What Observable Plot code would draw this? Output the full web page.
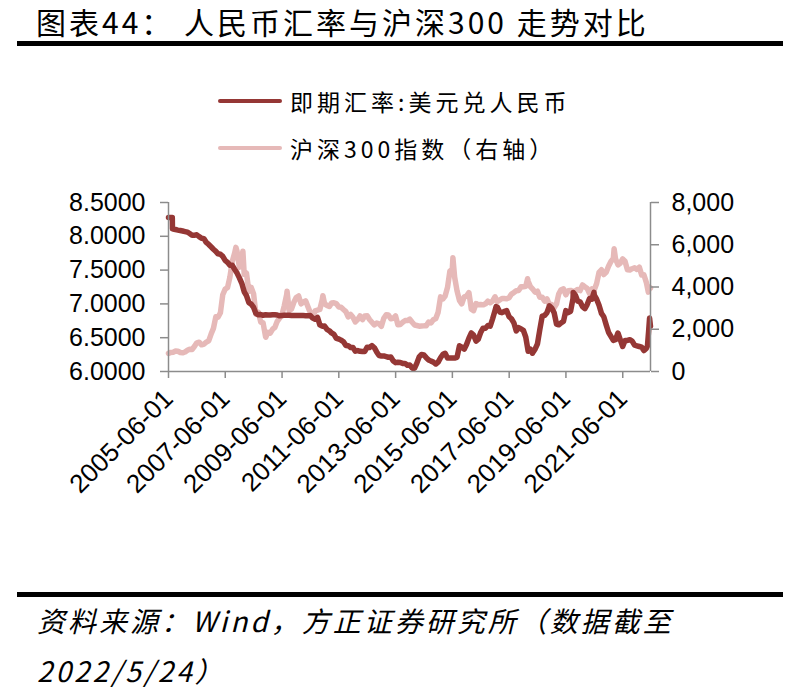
<!DOCTYPE html>
<html><head><meta charset="utf-8">
<script src="https://cdn.jsdelivr.net/npm/d3@7"></script>
<script src="https://cdn.jsdelivr.net/npm/@observablehq/plot@0.6"></script>
<style>
body{margin:0;background:#fff;}
#wrap{position:relative;width:795px;height:692px;overflow:hidden;font-family:"Noto Sans CJK SC",sans-serif;color:#000;}
#title{position:absolute;left:36px;top:1px;font-size:30px;line-height:40px;letter-spacing:3px;white-space:nowrap;}
.rule{position:absolute;left:17px;width:766px;height:5px;background:#000;}
.sw{position:absolute;left:218px;width:64px;height:4px;border-radius:2px;}
.lt{position:absolute;left:290px;font-size:23px;line-height:30px;letter-spacing:4px;white-space:nowrap;}
#chart{position:absolute;left:0;top:180px;}
#foot{position:absolute;left:37px;top:595px;font-size:28px;line-height:50px;font-style:italic;letter-spacing:3px;white-space:nowrap;}
</style></head>
<body><div id="wrap">
<div id="title">图表44： 人民币汇率与沪深300 走势对比</div>
<div class="rule" style="top:41px"></div>
<div class="sw" id="sw1" style="top:99px"></div><div class="lt" id="lt1" style="top:86px"></div>
<div class="sw" id="sw2" style="top:146px"></div><div class="lt" id="lt2" style="top:133px"></div>
<div id="chart"></div>
<div class="rule" style="top:592px"></div>
<div id="foot">资料来源：Wind，方正证券研究所（数据截至<br>2022/5/24）</div>
</div>
<script>
// ---- data ----
const seriesNames = ["即期汇率:美元兑人民币", "沪深300指数（右轴）"];
const seriesColors = ["#953735", "#E6B9B8"];
const monthStart = "2005-06"; // monthly month-end values, Jun 2005 .. Apr 2022
const fxMonthly = [
  8.2765, 8.1080, 8.1000, 8.0920, 8.0850, 8.0790, 8.0702,
  8.0608, 8.0415, 8.0170, 8.0167, 8.0215, 7.9956, 7.9716, 7.9655, 7.9087, 7.8792, 7.8450, 7.8087,
  7.7776, 7.7409, 7.7342, 7.7035, 7.6437, 7.6155, 7.5720, 7.5705, 7.5108, 7.4555, 7.3850, 7.3046,
  7.1786, 7.1230, 7.0190, 6.9975, 6.9480, 6.8591, 6.8388, 6.8434, 6.8313, 6.8398, 6.8347, 6.8346,
  6.8391, 6.8388, 6.8359, 6.8245, 6.8298, 6.8319, 6.8319, 6.8315, 6.8290, 6.8270, 6.8270, 6.8282,
  6.8268, 6.8270, 6.8263, 6.8254, 6.8275, 6.7909, 6.7735, 6.8010, 6.6905, 6.6700, 6.6720, 6.6227,
  6.6020, 6.5700, 6.5483, 6.4900, 6.4810, 6.4640, 6.4400, 6.3862, 6.3825, 6.3560, 6.3563, 6.3009,
  6.3100, 6.2986, 6.2943, 6.2960, 6.3600, 6.3550, 6.3830, 6.3520, 6.2900, 6.2360, 6.2300, 6.2300,
  6.2200, 6.2110, 6.2130, 6.1590, 6.1310, 6.1370, 6.1340, 6.1200, 6.1200, 6.0930, 6.0960, 6.0540,
  6.0500, 6.1200, 6.2160, 6.2510, 6.2450, 6.2050, 6.1710, 6.1530, 6.1390, 6.1110, 6.1390, 6.2040,
  6.2550, 6.2700, 6.1980, 6.2000, 6.2000, 6.2000, 6.2100, 6.3800, 6.3600, 6.3300, 6.4000, 6.4940,
  6.5700, 6.5400, 6.4500, 6.4800, 6.5800, 6.6400, 6.6400, 6.6800, 6.6700, 6.7800, 6.9000, 6.9500,
  6.8800, 6.8700, 6.8900, 6.9000, 6.8100, 6.7800, 6.7200, 6.6000, 6.6500, 6.6300, 6.6100, 6.5100,
  6.3000, 6.3300, 6.2800, 6.3300, 6.4100, 6.6200, 6.8200, 6.8300, 6.8700, 6.9700, 6.9400, 6.8700,
  6.7000, 6.6900, 6.7200, 6.7400, 6.9000, 6.8700, 6.8900, 7.0800, 7.1300, 7.0400, 7.0300, 6.9600,
  6.9300, 6.9900, 7.0800, 7.0700, 7.1300, 7.0700, 6.9800, 6.8600, 6.8100, 6.6900, 6.5800, 6.5200,
  6.4600, 6.4700, 6.5700, 6.4700, 6.3700, 6.4600, 6.4600, 6.4700, 6.4500, 6.3900, 6.3800, 6.3700,
  6.3600, 6.3100, 6.3400, 6.6000
];
const fxExtraDates = ["2005-06-01","2005-07-20","2005-07-22","2014-01-14","2016-12-15","2018-03-27","2019-09-03","2020-05-27","2022-04-15","2022-05-12","2022-05-24"];
const fxExtraValues = [8.2765, 8.2765, 8.1100, 6.0400, 6.9600, 6.2700, 7.1700, 7.1700, 6.3800, 6.7900, 6.6700];
const csiMonthly = [
  904, 914, 969, 959, 900, 886, 923,
  1007, 1056, 1044, 1185, 1357, 1385, 1262, 1300, 1388, 1452, 1759, 2041,
  2595, 2570, 2781, 3634, 3900, 3965, 4471, 5218, 5606, 5689, 4930, 5338,
  4604, 4655, 3792, 3979, 3670, 2710, 2796, 2340, 2302, 1662, 1859, 1817,
  2010, 2082, 2374, 2530, 2695, 3120, 3654, 2880, 2959, 3280, 3500, 3575,
  3204, 3281, 3346, 3067, 2780, 2564, 2868, 2903, 2936, 3398, 3202, 3128,
  3077, 3239, 3253, 3216, 3056, 3044, 2937, 2836, 2585, 2703, 2567, 2346,
  2464, 2634, 2455, 2626, 2634, 2462, 2333, 2205, 2294, 2254, 2140, 2523,
  2688, 2673, 2495, 2517, 2633, 2212, 2225, 2328, 2410, 2410, 2475, 2331,
  2202, 2178, 2146, 2158, 2160, 2165, 2341, 2300, 2450, 2508, 2808, 3533,
  3434, 3572, 3985, 4749, 4841, 4473, 3816, 3366, 3203, 3534, 3566, 3731,
  2946, 2877, 3218, 3156, 3169, 3154, 3203, 3327, 3253, 3336, 3538, 3310,
  3387, 3453, 3456, 3439, 3492, 3666, 3737, 3822, 3837, 4006, 4006, 4030,
  4275, 4023, 3899, 3756, 3802, 3510, 3517, 3335, 3438, 3153, 3173, 3011,
  3201, 3669, 3872, 3913, 3630, 3825, 3836, 3799, 3814, 3886, 3828, 4097,
  4003, 3940, 3686, 3912, 3867, 4164, 4695, 4816, 4588, 4695, 4980, 5211,
  5352, 5336, 5048, 5123, 5332, 5224, 4812, 4806, 4866, 4908, 4833, 4940,
  4564, 4581, 4222, 4016
];
const csiExtraDates = ["2005-06-01","2007-10-16","2008-01-14","2008-11-04","2009-08-04","2010-11-08","2015-06-08","2018-01-24","2021-02-10","2022-04-26","2022-05-24"];
const csiExtraValues = [860, 5877, 5697, 1627, 3803, 3590, 5380, 4389, 5807, 3757, 3950];
const leftTicks = [6.0, 6.5, 7.0, 7.5, 8.0, 8.5];
const rightTicks = [0, 2000, 4000, 6000, 8000];
const xTickLabels = ["2005-06-01","2007-06-01","2009-06-01","2011-06-01","2013-06-01","2015-06-01","2017-06-01","2019-06-01","2021-06-01"];
const xDomain = ["2005-06-01", "2022-05-24"];

// ---- build ----
const parse = d3.utcParse("%Y-%m-%d");
const m0 = d3.utcParse("%Y-%m")(monthStart);
const monthEnd = i => d3.utcDay.offset(d3.utcMonth.offset(m0, i + 1), -1);
function build(monthly, exDates, exVals) {
  const rows = monthly.map((v, i) => ({date: monthEnd(i), v}));
  exDates.forEach((d, i) => rows.push({date: parse(d), v: exVals[i]}));
  return rows.sort((a, b) => a.date - b.date);
}
const fxData = build(fxMonthly, fxExtraDates, fxExtraValues);
const csiData = build(csiMonthly, csiExtraDates, csiExtraValues);
const L0 = 6, L1 = 8.5, R1 = 8000;
const toLeft = v => L0 + v / R1 * (L1 - L0);
const fromLeft = y => (y - L0) / (L1 - L0) * R1;
const grey = "#8c8c8c";
const d0 = parse(xDomain[0]), d1 = parse(xDomain[1]);

const chart = Plot.plot({
  width: 795, height: 340,
  marginLeft: 168, marginRight: 145, marginTop: 22, marginBottom: 149,
  style: {fontFamily: "'Liberation Sans', Arial, sans-serif", fontSize: "24px", background: "transparent"},
  x: {type: "utc", domain: [d0, d1]},
  y: {domain: [L0, L1]},
  marks: [
    Plot.line(csiData, {x: "date", y: d => toLeft(d.v), stroke: seriesColors[1], strokeWidth: 5.5, strokeLinejoin: "round", strokeLinecap: "round"}),
    Plot.line(fxData, {x: "date", y: "v", stroke: seriesColors[0], strokeWidth: 5.5, strokeLinejoin: "round", strokeLinecap: "round"}),
    Plot.ruleX([d0], {y1: L0, y2: L1, stroke: grey, strokeWidth: 1.5}),
    Plot.ruleX([d1], {y1: L0, y2: L1, stroke: grey, strokeWidth: 1.5}),
    Plot.ruleY([L0], {stroke: grey, strokeWidth: 1.5}),
    Plot.axisY({anchor: "left", ticks: leftTicks, tickFormat: d3.format(".4f"), tickSize: 8, tickPadding: 15, stroke: grey, strokeWidth: 1.5, fill: "#000", fontSize: 25, label: null}),
    Plot.axisY({anchor: "right", ticks: rightTicks.map(toLeft), tickFormat: y => d3.format(",")(Math.round(fromLeft(y))), tickSize: 8, tickPadding: 13, stroke: grey, strokeWidth: 1.5, fill: "#000", fontSize: 25, label: null}),
    Plot.axisX({ticks: xTickLabels.map(parse), tickFormat: d3.utcFormat("%Y-%m-%d"), tickRotate: -45, tickSize: 7, tickPadding: 16, stroke: grey, strokeWidth: 1.5, fill: "#000", fontSize: 26, label: null})
  ]
});
document.getElementById("chart").appendChild(chart);
document.getElementById("sw1").style.background = seriesColors[0];
document.getElementById("sw2").style.background = seriesColors[1];
document.getElementById("lt1").textContent = seriesNames[0];
document.getElementById("lt2").textContent = seriesNames[1];
</script>
</body></html>
